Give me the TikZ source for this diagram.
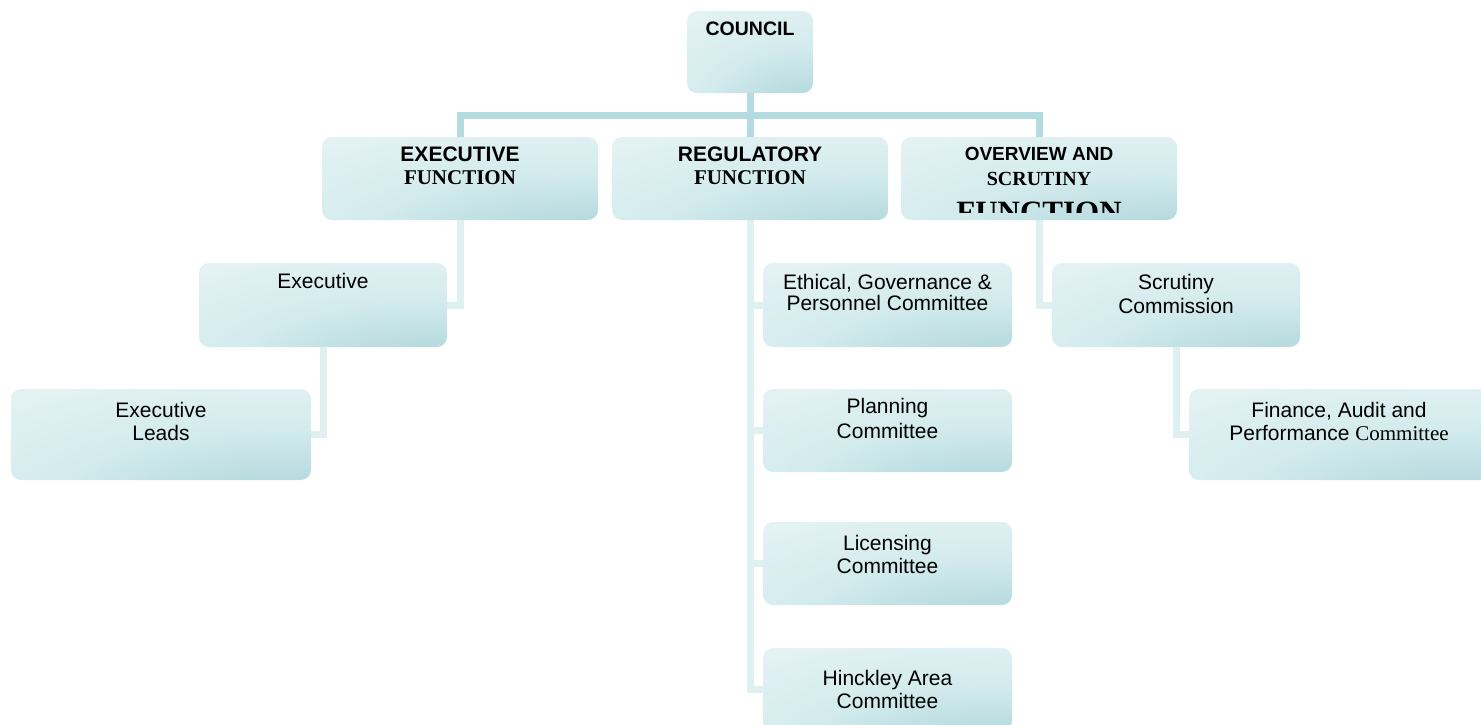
\documentclass[tikz,border=0pt]{standalone}
\usepackage{fontspec}
\newfontfamily\arialf{Liberation Sans}
\newfontfamily\tnrf{Liberation Serif}
\definecolor{boxlight}{HTML}{E4F2F3}
\definecolor{boxmid}{HTML}{D3EBED}
\definecolor{boxdark}{HTML}{B7DBDF}
\definecolor{toplinecol}{HTML}{B4DBDF}
\definecolor{sublinecol}{HTML}{DFF0F1}
\pgfdeclareradialshading{boxshade}{\pgfpoint{28bp}{-48bp}}{%
  color(0bp)=(boxdark); color(18bp)=(boxdark); color(38bp)=(boxmid);
  color(62bp)=(boxlight); color(140bp)=(boxlight)}
\begin{document}
\begin{tikzpicture}[x=1pt,y=-1pt,
  box/.style={rectangle, rounded corners=10pt, inner sep=0pt, draw=none,
    shading=boxshade},
  lbl/.style={inner sep=0pt, align=center, anchor=north, text=black,
    font=\arialf\fontsize{21}{23.5}\selectfont},
  topline/.style={draw=toplinecol, line width=7pt},
  subline/.style={draw=sublinecol, line width=7pt}]
\useasboundingbox (0,0) rectangle (1481,725);

% boxes
\node[box, minimum width=126pt, minimum height=82pt] (council) at (750,52) {};
\node[box, minimum width=276pt, minimum height=83pt] (execf) at (460,178.5) {};
\node[box, minimum width=276pt, minimum height=83pt] (regf) at (750,178.5) {};
\node[box, minimum width=276pt, minimum height=83pt] (ovf) at (1039,178.5) {};
\node[box, minimum width=248pt, minimum height=84pt] (exec) at (323,305) {};
\node[box, minimum width=300pt, minimum height=91pt] (leads) at (161,434.5) {};
\node[box, minimum width=249pt, minimum height=84pt] (ethical) at (887.5,305) {};
\node[box, minimum width=249pt, minimum height=83pt] (planning) at (887.5,430.5) {};
\node[box, minimum width=249pt, minimum height=83pt] (licensing) at (887.5,563.5) {};
\node[box, minimum width=249pt, minimum height=83pt] (hinckley) at (887.5,689.5) {};
\node[box, minimum width=248pt, minimum height=84pt] (scrutiny) at (1176,305) {};
\node[box, minimum width=300pt, minimum height=91pt] (finance) at (1339,434.5) {};

% connectors
\coordinate (bus) at (750,115);
\draw[topline] (council.south) -- (council.south |- bus);
\draw[topline] (execf.north) |- (bus) -| (ovf.north);
\draw[topline] (regf.north) -- (regf.north |- bus);

\draw[subline] (execf.south) |- (exec.east);
\draw[subline] (exec.south) |- (leads.east);
\draw[subline] (regf.south) |- (hinckley.west);
\draw[subline] (regf.south |- ethical.west) -- (ethical.west);
\draw[subline] (regf.south |- planning.west) -- (planning.west);
\draw[subline] (regf.south |- licensing.west) -- (licensing.west);
\draw[subline] (ovf.south) |- (scrutiny.west);
\draw[subline] (scrutiny.south) |- (finance.west);

% texts
\node[lbl, font=\arialf\bfseries\fontsize{19.5}{22}\selectfont] (tcouncil) at (750,22) {COUNCIL};
\node[lbl, font=\arialf\fontsize{21}{23}\selectfont] (texecf) at (460,147) {\bfseries EXECUTIVE\\{\tnrf\bfseries FUNCTION}};
\node[lbl, font=\arialf\fontsize{21}{23}\selectfont] (tregf) at (750,147) {\bfseries REGULATORY\\{\tnrf\bfseries FUNCTION}};
\node[lbl, font=\arialf\bfseries\fontsize{19}{22}\selectfont] (tovf) at (1039,147) {OVERVIEW AND};
\node[lbl, anchor=base, font=\tnrf\bfseries\fontsize{20}{22}\selectfont] (tovf2) at (1039,185) {SCRUTINY};
\begin{scope}
  \clip (901,137) rectangle (1177,212);
  \node[lbl, anchor=base, font=\tnrf\bfseries\fontsize{31}{34}\selectfont] (tovf3) at (1039,222) {FUNCTION};
\end{scope}
\node[lbl] (texec) at (323,273) {Executive};
\node[lbl] (tleads) at (161,402) {Executive\\Leads};
\node[lbl, font=\arialf\fontsize{21}{21}\selectfont] (tethical) at (887.5,274) {Ethical, Governance \&\\Personnel Committee};
\node[lbl, font=\arialf\fontsize{21}{24.5}\selectfont] (tplanning) at (887.5,398.5) {Planning\\Committee};
\node[lbl] (tlicensing) at (887.5,535) {Licensing\\Committee};
\node[lbl] (thinckley) at (887.5,670) {Hinckley Area\\Committee};
\node[lbl, font=\arialf\fontsize{21}{24}\selectfont] (tscrutiny) at (1176,274) {Scrutiny\\Commission};
\node[lbl] (tfinance) at (1339,402) {Finance, Audit and\\Performance {\tnrf Committee}};
\end{tikzpicture}
\end{document}
